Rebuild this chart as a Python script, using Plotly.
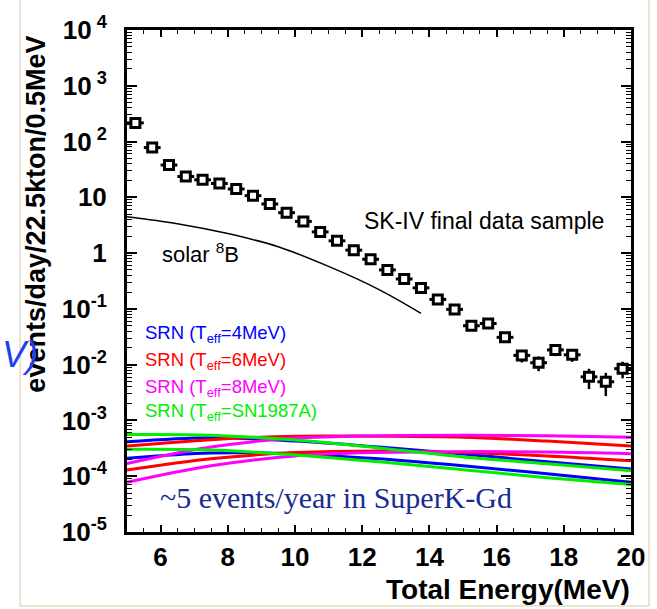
import plotly.graph_objects as go

# ---------------- data ----------------
data_e = [5.25, 5.75, 6.25, 6.75, 7.25, 7.75, 8.25, 8.75, 9.25, 9.75,
          10.25, 10.75, 11.25, 11.75, 12.25, 12.75, 13.25, 13.75, 14.25, 14.75,
          15.25, 15.75, 16.25, 16.75, 17.25, 17.75, 18.25, 18.75, 19.25, 19.75]
data_v = [216, 78, 37.9, 23.6, 20.6, 17.7, 14.1, 10.7, 7.6, 5.3,
          3.7, 2.4, 1.66, 1.13, 0.776, 0.50, 0.344, 0.238, 0.148, 0.098,
          0.0499, 0.0547, 0.0309, 0.01466, 0.01084, 0.0184, 0.01503, 0.00605, 0.00493, 0.00849]
data_err = [0.45, 0.27, 0.19, 0.15, 0.14, 0.13, 0.12, 0.10, 0.085, 0.071,
            0.059, 0.048, 0.040, 0.033, 0.027, 0.022, 0.018, 0.015, 0.0119, 0.0096,
            0.0069, 0.0072, 0.0054, 0.0037, 0.0032, 0.0042, 0.0038, 0.0024, 0.0022, 0.0028]

solar_e = [5.0, 6.5, 8.0, 9.5, 11.0, 12.5, 13.75]
solar_v = [4.5, 3.37, 2.24, 1.30, 0.577, 0.222, 0.0834]

srn_e = [5.0, 7.5, 10.0, 12.5, 15.0, 17.5, 20.0]
srn4_hi = [4.15e-4, 4.92e-4, 4.27e-4, 3.34e-4, 2.51e-4, 1.81e-4, 1.34e-4]
srn4_lo = [2.11e-4, 2.62e-4, 2.51e-4, 2.05e-4, 1.54e-4, 1.11e-4, 7.78e-5]
srn6_hi = [3.48e-4, 4.53e-4, 5.23e-4, 5.23e-4, 5.02e-4, 4.27e-4, 3.48e-4]
srn6_lo = [1.29e-4, 2.05e-4, 2.65e-4, 2.84e-4, 2.65e-4, 2.31e-4, 1.89e-4]
srn8_hi = [1.69e-4, 3.34e-4, 4.82e-4, 5.34e-4, 5.45e-4, 5.34e-4, 5.02e-4]
srn8_lo = [7.78e-5, 1.54e-4, 2.31e-4, 2.67e-4, 2.76e-4, 2.72e-4, 2.54e-4]
srn87_hi = [5.61e-4, 5.45e-4, 4.44e-4, 3.21e-4, 2.22e-4, 1.67e-4, 1.25e-4]
srn87_lo = [3.04e-4, 2.95e-4, 2.41e-4, 1.81e-4, 1.31e-4, 9.43e-5, 7.09e-5]

y_tickvals = [1e-5, 1e-4, 1e-3, 1e-2, 1e-1, 1, 10, 100, 1000, 10000]
y_ticktext = ["10<sup>-5</sup>", "10<sup>-4</sup>", "10<sup>-3</sup>", "10<sup>-2</sup>",
              "10<sup>-1</sup>", "1", "10", "10<sup> 2</sup>", "10<sup> 3</sup>", "10<sup> 4</sup>"]

legend_texts = ["SRN (T<sub>eff</sub>=4MeV)", "SRN (T<sub>eff</sub>=6MeV)",
                "SRN (T<sub>eff</sub>=8MeV)", "SRN (T<sub>eff</sub>=SN1987A)"]
colors = ["#0000ff", "#ff0000", "#ff00ff", "#00ee00"]

# ---------------- figure ----------------
fig = go.Figure()

srn_sets = [(srn4_hi, srn4_lo), (srn6_hi, srn6_lo), (srn8_hi, srn8_lo), (srn87_hi, srn87_lo)]
for (hi, lo), c in zip(srn_sets, colors):
    for arr in (hi, lo):
        fig.add_trace(go.Scatter(x=srn_e, y=arr, mode="lines",
                                 line=dict(color=c, width=3, shape="spline"),
                                 showlegend=False, hoverinfo="skip"))

fig.add_trace(go.Scatter(x=solar_e, y=solar_v, mode="lines",
                         line=dict(color="black", width=1.5, shape="spline"),
                         showlegend=False))

fig.add_trace(go.Scatter(
    x=data_e, y=data_v, mode="markers",
    marker=dict(symbol="square", size=9, color="white", line=dict(color="black", width=3)),
    error_y=dict(type="data", array=data_err, color="black", thickness=2.5, width=0),
    error_x=dict(type="constant", value=0.25, color="black", thickness=3, width=0),
    showlegend=False))

# minor tick positions for log axis
minor_vals = []
for p in range(-5, 4):
    for k in range(2, 10):
        minor_vals.append(k * 10 ** p)

axis_font = dict(family="Liberation Sans, Arial, sans-serif", size=26, color="black", weight="bold")

fig.update_xaxes(range=[5, 20], showline=True, linewidth=3, linecolor="black", mirror="ticks",
                 ticks="inside", ticklen=7, tickwidth=1.5, tickcolor="black",
                 tick0=0, dtick=2, tickfont=dict(axis_font, size=26),
                 showgrid=False, zeroline=False,
                 minor=dict(ticks="inside", dtick=0.5, tick0=0, ticklen=4, tickwidth=1.2,
                            tickcolor="black", showgrid=False))
fig.update_yaxes(type="log", range=[-5, 4], showline=True, linewidth=3, linecolor="black",
                 mirror="ticks", ticks="inside", ticklen=10, tickwidth=1.5, tickcolor="black",
                 tickvals=y_tickvals, ticktext=y_ticktext, tickfont=axis_font,
                 ticklabelstandoff=12, showgrid=False, zeroline=False,
                 minor=dict(ticks="inside", tickvals=minor_vals, ticklen=5, tickwidth=1,
                            tickcolor="black", showgrid=False))

L, R, T, B = 127, 25, 24, 77
W, H = 657, 609
pw, ph = W - L - R, H - T - B

def px(xp):
    return (xp - L) / pw

def py(yp):
    return (H - B - yp) / ph

ann = []
ann.append(dict(text="events/day/22.5kton/0.5MeV", x=px(36), y=py(28), xref="paper", yref="paper",
                xanchor="center", yanchor="top", textangle=-90, showarrow=False,
                font=dict(family="Liberation Sans, Arial, sans-serif", size=27, color="black", weight="bold")))
ann.append(dict(text="Total Energy(MeV)", x=px(633), y=py(590), xref="paper", yref="paper",
                xanchor="right", yanchor="middle", showarrow=False,
                font=dict(family="Liberation Sans, Arial, sans-serif", size=28, color="black", weight="bold")))
ann.append(dict(text="SK-IV final data sample", x=px(362), y=py(217), xref="paper", yref="paper",
                xanchor="left", yanchor="middle", showarrow=False,
                font=dict(family="Liberation Sans, Arial, sans-serif", size=23, color="black")))
ann.append(dict(text="solar <sup>8</sup>B", x=px(160), y=py(250), xref="paper", yref="paper",
                xanchor="left", yanchor="middle", showarrow=False,
                font=dict(family="Liberation Sans, Arial, sans-serif", size=22, color="black")))
for i, (t, c) in enumerate(zip(legend_texts, colors)):
    ann.append(dict(text=t, x=px(143), y=py([332, 359, 386, 411][i]), xref="paper", yref="paper",
                    xanchor="left", yanchor="middle", showarrow=False,
                    font=dict(family="Liberation Sans, Arial, sans-serif", size=18.5, color=c)))
ann.append(dict(text="~5 events/year in SuperK-Gd", x=px(158), y=py(497), xref="paper", yref="paper",
                xanchor="left", yanchor="middle", showarrow=False,
                font=dict(family="Liberation Serif, Times New Roman, serif", size=30, color="#1a2d8f")))
ann.append(dict(text="<i>V)</i>", x=px(20), y=py(352), xref="paper", yref="paper",
                xanchor="center", yanchor="middle", showarrow=False,
                font=dict(family="Liberation Sans, Arial, sans-serif", size=36, color="#2040f0")))

shapes = [dict(type="rect", xref="paper", yref="paper", x0=px(20), x1=px(650), y0=py(607), y1=py(-20),
               line=dict(color="#e3dcc5", width=1.5), fillcolor="rgba(0,0,0,0)", layer="below")]

fig.update_layout(width=W, height=H, margin=dict(l=L, r=R, t=T, b=B),
                  plot_bgcolor="white", paper_bgcolor="white",
                  annotations=ann, shapes=shapes, showlegend=False)

fig.write_html("out.html")
